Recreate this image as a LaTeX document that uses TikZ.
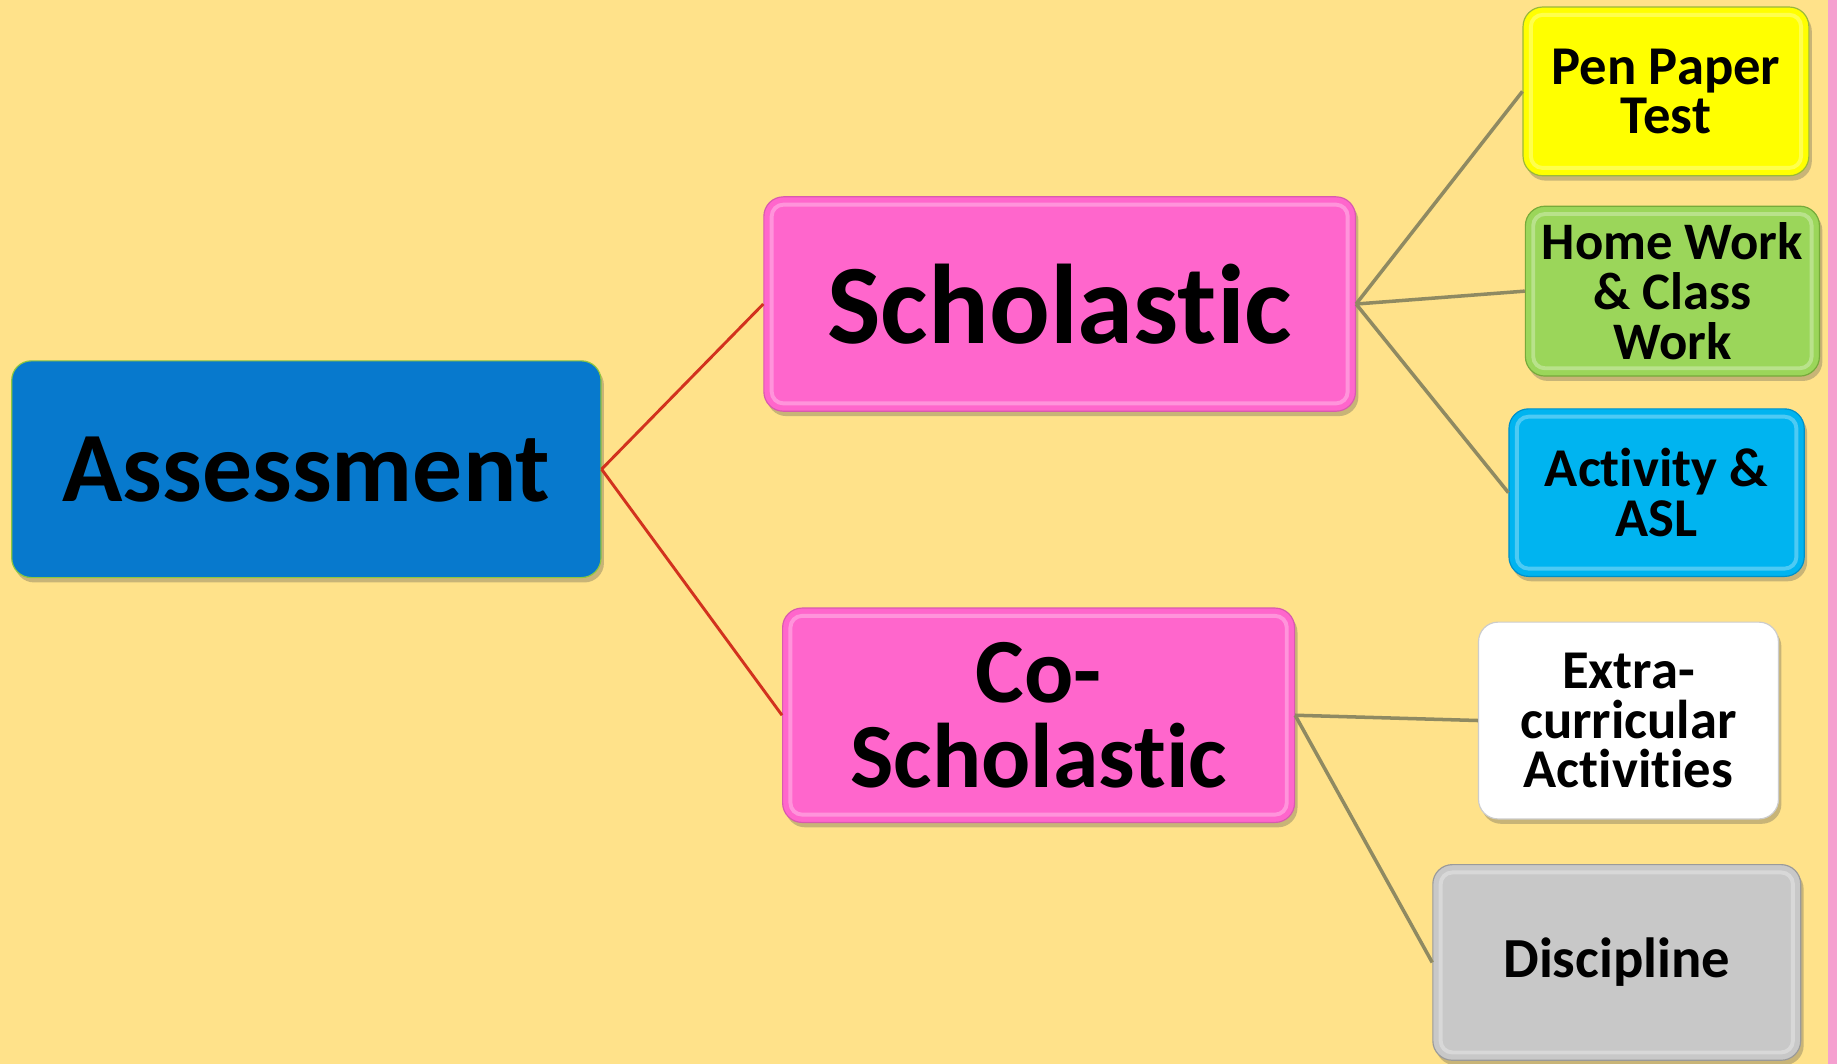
\documentclass[tikz,border=0pt]{standalone}
\usepackage{fontspec}
\setmainfont{Carlito}[Ligatures=NoCommon]
\usetikzlibrary{shadows}
\definecolor{bgc}{HTML}{FFE28A}
\definecolor{stripc}{HTML}{F5A0CF}
\definecolor{bluec}{HTML}{0779CD}
\definecolor{greenbd}{HTML}{8DC63F}
\definecolor{pinkc}{HTML}{FF66CC}
\definecolor{pinkbd}{HTML}{D85AAE}
\definecolor{yellowc}{HTML}{FFFF00}
\definecolor{yellowbd}{HTML}{9AB83A}
\definecolor{greenc}{HTML}{9BD65A}
\definecolor{greenbd2}{HTML}{76AA3A}
\definecolor{cyanc}{HTML}{00B4F0}
\definecolor{cyanbd}{HTML}{0090C8}
\definecolor{grayc}{HTML}{C8C8C8}
\definecolor{graybd}{HTML}{9A9A9A}
\definecolor{redl}{HTML}{D2321E}
\definecolor{olivel}{HTML}{8F8A62}
\tikzset{
  box/.style={rectangle, rounded corners=10pt, align=center, font=\bfseries, text=black, inner sep=0pt,
    line width=0.6pt,
    drop shadow={shadow xshift=1.5pt, shadow yshift=-2.5pt, opacity=0.3, fill=black!70}},
  bevel/.style={path picture={\draw[white, opacity=.3, line width=2pt, rounded corners=6pt]
      ([shift={(4pt,-4pt)}]path picture bounding box.north west) rectangle
      ([shift={(-4pt,4pt)}]path picture bounding box.south east);}},
  bigbox/.style={box, fill=pinkc, draw=pinkbd, bevel, font=\bfseries\fontsize{58}{46}\selectfont},
  smallbox/.style={box, bevel, font=\bfseries\fontsize{28}{25.5}\selectfont},
  redline/.style={draw=redl, line width=1.5pt},
  oliveline/.style={draw=olivel, line width=1.8pt}
}
\begin{document}
\begin{tikzpicture}[x=0.6pt, y=0.6pt]
\useasboundingbox (0,0) rectangle (1568,-908);
\fill[bgc] (0,0) rectangle (1568,-908);
\fill[stripc] (1560,0) rectangle (1568,-908);

\node[box, fill=bluec, draw=greenbd, minimum width=301.8pt, minimum height=111pt,
      font=\bfseries\fontsize{51}{51}\selectfont] (assess) at (261.5,-400.5) {Assessment};
\node[bigbox, minimum width=303pt, minimum height=109.8pt] (schol) at (904.5,-259.5) {Scholastic};
\node[bigbox, minimum width=262.2pt, minimum height=109.8pt,
      font=\bfseries\fontsize{47}{43.5}\selectfont] (cosch) at (886.5,-610.5) {Co-\\Scholastic};

\node[smallbox, fill=yellowc, draw=yellowbd, minimum width=146.4pt, minimum height=86.4pt] (pen) at (1422,-78) {Pen Paper\\Test};
\node[smallbox, fill=greenc, draw=greenbd2, minimum width=150.6pt, minimum height=87pt,
      font=\bfseries\fontsize{27}{25.5}\selectfont] (home) at (1427.5,-248.5) {Home Work\\\& Class\\Work};
\node[smallbox, fill=cyanc, draw=cyanbd, minimum width=151.2pt, minimum height=85.8pt] (act) at (1414,-420.5) {Activity \&\\ASL};
\node[smallbox, fill=white, draw=black!20, minimum width=153.6pt, minimum height=100.8pt] (extra) at (1390,-615) {Extra-\\curricular\\Activities};
\node[smallbox, fill=grayc, draw=graybd, minimum width=188.4pt, minimum height=100.2pt,
      font=\bfseries\fontsize{29}{29}\selectfont] (disc) at (1380,-821.5) {Discipline};

\draw[redline] (assess.east) -- (schol.west);
\draw[redline] (assess.east) -- (cosch.west);
\draw[oliveline] (schol.east) -- (pen.west);
\draw[oliveline] (schol.east) -- (home.west);
\draw[oliveline] (schol.east) -- (act.west);
\draw[oliveline] (cosch.east) -- (extra.west);
\draw[oliveline] (cosch.east) -- (disc.west);
\end{tikzpicture}
\end{document}
